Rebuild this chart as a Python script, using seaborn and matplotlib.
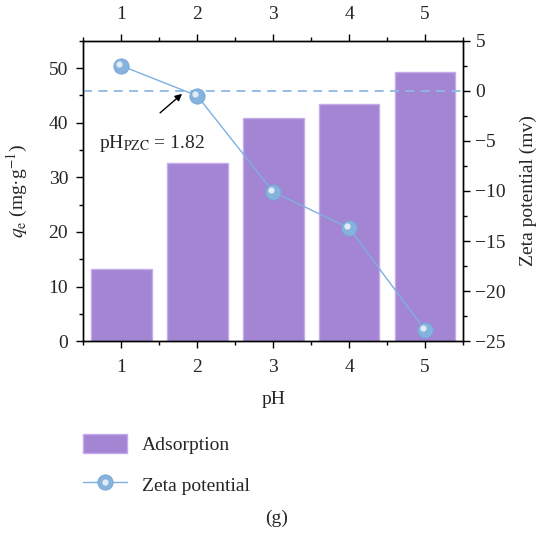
import numpy as np
import pandas as pd
import matplotlib
matplotlib.use("Agg")
import matplotlib.pyplot as plt
import matplotlib.transforms as mtransforms
from matplotlib.ticker import MultipleLocator
from matplotlib.patches import Patch
from matplotlib.lines import Line2D
from matplotlib.legend_handler import HandlerTuple
import seaborn as sns

# pH values and measurements
ph = [1, 2, 3, 4, 5]
adsorption_qe = [13.2, 32.6, 40.9, 43.4, 49.2]      # q_e (mg/g)
zeta_potential = [2.5, -0.5, -10.1, -13.7, -23.9]   # mV
tick_labels = ["1", "2", "3", "4", "5"]
ph_pzc = 1.82

sns.set_theme(style="ticks")
plt.rcParams["font.family"] = ["Liberation Serif", "DejaVu Serif"]
plt.rcParams["mathtext.fontset"] = "stix"
plt.rcParams["axes.linewidth"] = 1.0
fs = 14

bar_color = "#A385D4"
bar_edge = "#C4ABEA"
line_color = "#7FB0E0"
dash_color = "#8DB9E4"

df = pd.DataFrame({"pH": ph, "qe": adsorption_qe, "zeta": zeta_potential})

fig = plt.figure(figsize=(5.45, 5.33), dpi=100)
ax = fig.add_axes([0.153, 0.360, 0.6965, 0.5635])

sns.barplot(data=df, x="pH", y="qe", native_scale=True, width=0.8,
            color=bar_color, edgecolor=bar_edge, linewidth=1.0,
            saturation=1, ax=ax)
ax.set_xlim(0.5, 5.5)
ax.set_ylim(0, 55)
ax.set_xticks(ph)
ax.set_xticklabels(tick_labels)
ax.xaxis.set_minor_locator(MultipleLocator(0.5))
ax.yaxis.set_major_locator(MultipleLocator(10))
ax.yaxis.set_minor_locator(MultipleLocator(5))
ax.set_xlabel("pH", fontsize=fs, labelpad=11)
ax.set_ylabel(r"$q_\mathrm{e}$ (mg·g$^{-1}$)", fontsize=fs, labelpad=13)
ax.tick_params(axis="both", which="major", direction="out", length=5,
               width=1, labelsize=fs, color="black", pad=6)
ax.tick_params(axis="x", which="major", pad=8)
ax.tick_params(axis="both", which="minor", direction="out", length=3,
               width=1, color="black")
ax.tick_params(axis="x", which="both", top=True, labeltop=True)
for s in ax.spines.values():
    s.set_color("black")
    s.set_visible(True)

# zeta potential on the right-hand axis
ax2 = ax.twinx()
ax2.set_ylim(-25, 5)
ax2.axhline(0, color=dash_color, lw=1.3, ls=(0, (5, 3.5)), zorder=1)
sns.lineplot(data=df, x="pH", y="zeta", ax=ax2, color=line_color, lw=1.0,
             marker="o", markersize=11, markerfacecolor="#86B3DE",
             markeredgecolor="#74A6D6", markeredgewidth=0.6, zorder=3)
hl = mtransforms.offset_copy(ax2.transData, fig=fig, x=-1.5, y=1.5, units="points")
ax2.plot(df["pH"], df["zeta"], ls="none", marker="o", markersize=4.5,
         markerfacecolor="white", markeredgewidth=0, alpha=0.75,
         transform=hl, zorder=4)
ax2.set_xlim(0.5, 5.5)
ax2.yaxis.set_major_locator(MultipleLocator(5))
ax2.yaxis.set_minor_locator(MultipleLocator(2.5))
ax2.set_yticks(np.arange(-25, 6, 5))
ax2.set_yticklabels([f"{int(v)}".replace("-", "\u2212") for v in np.arange(-25, 6, 5)])
ax2.set_ylabel("Zeta potential (mv)", fontsize=fs, labelpad=10)
ax2.set_xlabel("")
ax2.tick_params(axis="y", which="major", direction="out", length=5, width=1,
                labelsize=fs, color="black", pad=4)
ax2.tick_params(axis="y", which="minor", direction="out", length=3, width=1,
                color="black")
for s in ax2.spines.values():
    s.set_color("black")

# point of zero charge annotation
ax2.annotate("", xy=(ph_pzc - 0.02, -0.3), xytext=(1.51, -2.2),
             arrowprops=dict(arrowstyle="-|>", color="black", lw=1.0,
                             mutation_scale=10, shrinkA=0, shrinkB=0))
ax2.text(0.71, -5.3, r"pH$_{\mathrm{PZC}}$ = " + f"{ph_pzc:.2f}", fontsize=fs,
         ha="left", va="center")

# legend below the plot
bar_handle = Patch(facecolor=bar_color, edgecolor=bar_edge, linewidth=1.0)
line_handle = Line2D([], [], color=line_color, lw=1.0, marker="o",
                     markersize=11, markerfacecolor="#86B3DE",
                     markeredgecolor="#74A6D6", markeredgewidth=0.6)
hl_handle = Line2D([], [], ls="none", marker="o", markersize=4.5,
                   markerfacecolor="white", markeredgewidth=0, alpha=0.75)
fig.legend([bar_handle, (line_handle, hl_handle)], ["Adsorption", "Zeta potential"],
           handler_map={tuple: HandlerTuple(ndivide=1, pad=0)},
           loc="upper left", bbox_to_anchor=(0.152, 0.186),
           bbox_transform=fig.transFigure, frameon=False, fontsize=fs,
           handlelength=2.26, handleheight=1.13, handletextpad=0.77,
           labelspacing=1.05, borderaxespad=0, borderpad=0)

fig.text(0.507, 0.028, "(g)", fontsize=fs, ha="center", va="center")

fig.savefig("out.png", dpi=100)
